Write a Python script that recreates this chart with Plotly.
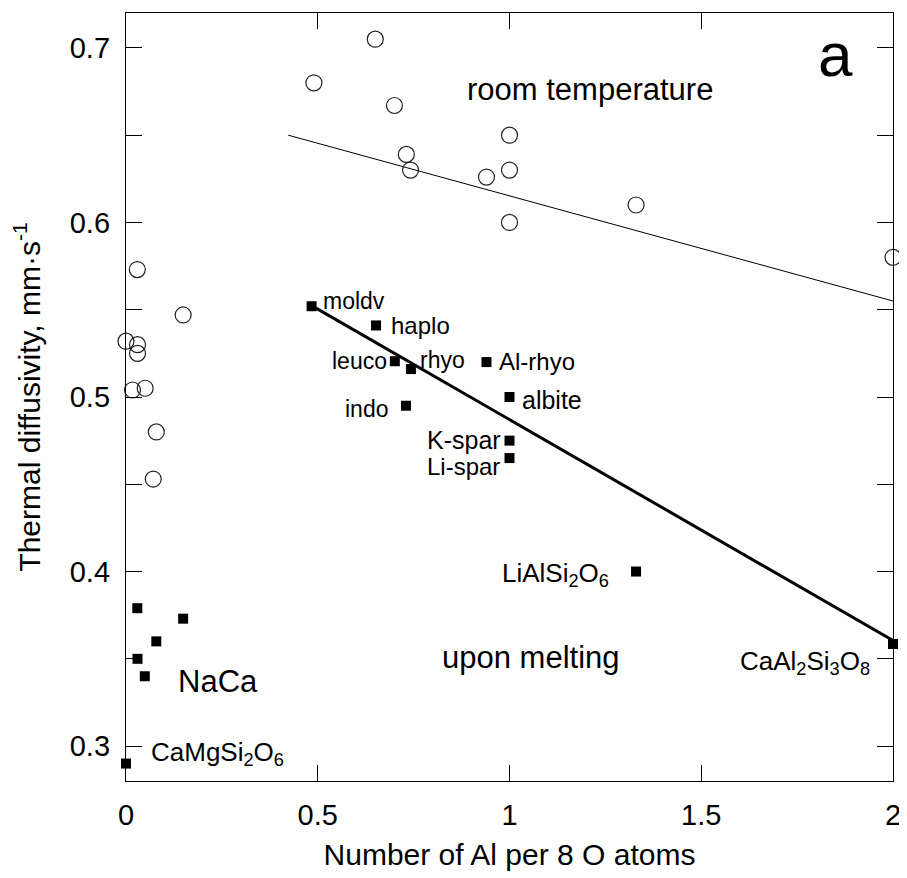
import plotly.graph_objects as go

# ---- data ----
# room temperature (open circles)
room_x = [0.0, 0.030, 0.030, 0.0295, 0.017, 0.050, 0.079, 0.071, 0.149,
          0.490, 0.650, 0.700, 0.731, 0.742, 0.940, 1.0, 1.0, 1.0, 1.330, 2.0]
room_y = [0.532, 0.530, 0.525, 0.573, 0.504, 0.505, 0.480, 0.453, 0.547,
          0.680, 0.705, 0.667, 0.639, 0.630, 0.626, 0.650, 0.630, 0.600, 0.610, 0.580]

# upon melting (filled squares)
melt_x = [0.484, 0.652, 0.701, 0.743, 0.940, 1.0, 0.730, 1.0, 1.0, 1.330, 2.0,
          0.0295, 0.149, 0.079, 0.030, 0.049, 0.0]
melt_y = [0.552, 0.541, 0.5205, 0.516, 0.520, 0.500, 0.495, 0.475, 0.465, 0.400, 0.3585,
          0.379, 0.373, 0.360, 0.350, 0.340, 0.290]
melt_labels = ["moldv", "haplo", "leuco", "rhyo", "Al-rhyo", "albite", "indo",
               "K-spar", "Li-spar", "LiAlSi<sub>2</sub>O<sub>6</sub>",
               "CaAl<sub>2</sub>Si<sub>3</sub>O<sub>8</sub>",
               "", "", "", "", "", "CaMgSi<sub>2</sub>O<sub>6</sub>"]

# fit lines (end points)
room_fit_x = [0.423, 2.0]
room_fit_y = [0.650, 0.555]
melt_fit_x = [0.475, 2.0]
melt_fit_y = [0.5535, 0.3605]

x_tickvals = [0, 0.5, 1, 1.5, 2]
x_ticktext = ["0", "0.5", "1", "1.5", "2"]
y_tickvals = [0.3, 0.35, 0.4, 0.45, 0.5, 0.55, 0.6, 0.65, 0.7]
y_ticktext = ["0.3", "", "0.4", "", "0.5", "", "0.6", "", "0.7"]

FONT = "Liberation Sans, Arial, Helvetica, sans-serif"

fig = go.Figure()
fig.add_trace(go.Scatter(x=room_fit_x, y=room_fit_y, mode="lines",
                         line=dict(color="black", width=1), hoverinfo="skip"))
fig.add_trace(go.Scatter(x=melt_fit_x, y=melt_fit_y, mode="lines",
                         line=dict(color="black", width=3), hoverinfo="skip"))
fig.add_trace(go.Scatter(x=room_x, y=room_y, mode="markers", cliponaxis=False,
                         marker=dict(symbol="circle-open", size=16, color="#222",
                                     line=dict(width=1.2, color="#222"))))
fig.add_trace(go.Scatter(x=melt_x, y=melt_y, mode="markers", cliponaxis=False,
                         marker=dict(symbol="square", size=10, color="black")))

# label placement offsets (pixels): xshift, yshift, xanchor, font size
label_style = {
    "moldv": (9.5, 5.5, "left", 23),
    "haplo": (13, 0, "left", 24),
    "leuco": (-5.5, 0, "right", 23),
    "rhyo": (7, 9, "left", 23),
    "Al-rhyo": (10.5, 1, "left", 24),
    "albite": (10, -3, "left", 25),
    "indo": (-15.7, -3.5, "right", 23),
    "K-spar": (-6.3, 1, "right", 25),
    "Li-spar": (-8, -8, "right", 24),
    "LiAlSi<sub>2</sub>O<sub>6</sub>": (-25, -3, "right", 26),
    "CaAl<sub>2</sub>Si<sub>3</sub>O<sub>8</sub>": (-20.7, -19, "right", 26),
    "CaMgSi<sub>2</sub>O<sub>6</sub>": (22.7, 10, "left", 26),
}
annotations = []
for xv, yv, lab in zip(melt_x, melt_y, melt_labels):
    if not lab:
        continue
    xs, ys, xa, fs = label_style[lab]
    annotations.append(dict(x=xv, y=yv, xref="x", yref="y", text=lab, showarrow=False,
                            xanchor=xa, yanchor="middle", xshift=xs, yshift=ys,
                            font=dict(size=fs, color="black", family=FONT)))

annotations += [
    dict(x=0.885, y=0.6759, text="room temperature", xanchor="left", yanchor="middle",
         font=dict(size=31)),
    dict(x=0.818, y=0.3507, text="upon melting", xanchor="left", yanchor="middle",
         font=dict(size=31)),
    dict(x=0.130, y=0.3371, text="NaCa", xanchor="left", yanchor="middle",
         font=dict(size=31)),
    dict(x=1.851, y=0.6962, text="a", xanchor="center", yanchor="middle",
         font=dict(size=62)),
]
for a in annotations[-4:]:
    a.update(xref="x", yref="y", showarrow=False)
    a["font"].update(color="black", family=FONT)
fig.update_layout(annotations=annotations)

axis_common = dict(showline=True, linecolor="black", linewidth=1.3, mirror="ticks",
                   ticks="inside", ticklen=16, tickwidth=1.3, tickcolor="black",
                   showgrid=False, zeroline=False, automargin=False,
                   tickfont=dict(size=29, color="black", family=FONT))
fig.update_xaxes(range=[0, 2], tickvals=x_tickvals, ticktext=x_ticktext,
                 ticklabelstandoff=8,
                 title=dict(text="Number of Al per 8 O atoms", standoff=14,
                            font=dict(size=30, color="black", family=FONT)),
                 **axis_common)
fig.update_yaxes(range=[0.28, 0.72], tickvals=y_tickvals, ticktext=y_ticktext,
                 ticklabelstandoff=9,
                 title=dict(text="Thermal diffusivity, mm·s<sup>-1</sup>", standoff=20,
                            font=dict(size=30, color="black", family=FONT)),
                 **axis_common)

# the page body adds an 8 px margin, so the figure is 16 px smaller than the window
fig.update_layout(width=899, height=870, showlegend=False,
                  margin=dict(l=118, r=13.5, t=4.5, b=96.7, autoexpand=False),
                  paper_bgcolor="white", plot_bgcolor="white",
                  font=dict(family=FONT, color="black"))

fig.write_html("out.html")
